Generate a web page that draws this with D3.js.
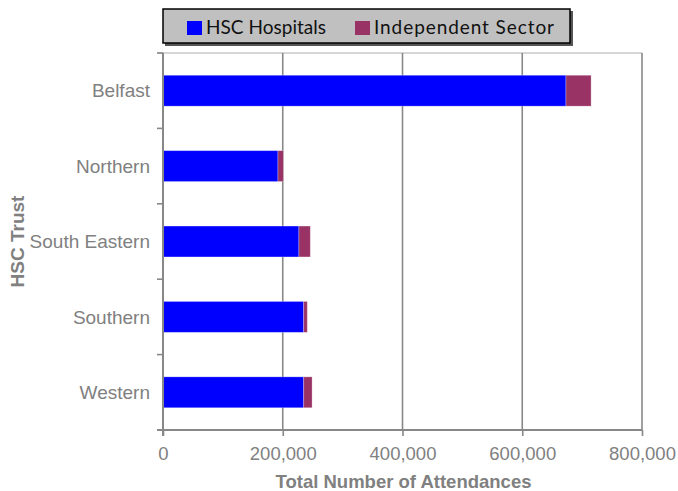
<!DOCTYPE html>
<html>
<head>
<meta charset="utf-8">
<script src="https://cdn.jsdelivr.net/npm/d3@7"></script>
<style>
  html, body { margin: 0; padding: 0; background: #fff; }
  svg { display: block; }
</style>
</head>
<body>
<svg id="chart" width="678" height="491"></svg>
<script>
// Attendances by HSC Trust, split by provider type
const trusts = ["Belfast", "Northern", "South Eastern", "Southern", "Western"];
const hscHospitals = [673000, 192000, 227000, 235000, 235000];
const independentSector = [42000, 9000, 19000, 6000, 14000];
const seriesNames = ["HSC Hospitals", "Independent Sector"];
const seriesColors = ["#0000ff", "#993366"];
const xTicks = [0, 200000, 400000, 600000, 800000];

const rows = trusts.map((t, i) => ({
  trust: t,
  "HSC Hospitals": hscHospitals[i],
  "Independent Sector": independentSector[i]
}));

const svg = d3.select("#chart");
const margin = { top: 53, right: 36, bottom: 61, left: 163 };
const W = 678, H = 491;
const innerW = W - margin.left - margin.right;
const innerH = H - margin.top - margin.bottom;

const x = d3.scaleLinear().domain([0, 800000]).range([0, innerW]);
const y = d3.scaleBand().domain(trusts).range([0, innerH])
  .paddingInner(0.59).paddingOuter(0.295);
const yOuter = d3.scaleBand().domain(trusts).range([0, innerH]);

const g = svg.append("g").attr("transform", `translate(${margin.left},${margin.top})`);
const grey = "#888888";
const labelGrey = "#808080";
const sans = "'Liberation Sans', Arial, sans-serif";

// top border of the plot area
g.append("line")
  .attr("x1", -5).attr("x2", innerW).attr("y1", 0).attr("y2", 0)
  .attr("stroke", "#c8c8c8").attr("stroke-width", 1.5);

// vertical gridlines
g.append("g").selectAll("line")
  .data(xTicks.slice(1))
  .join("line")
  .attr("x1", d => x(d)).attr("x2", d => x(d))
  .attr("y1", 0).attr("y2", innerH)
  .attr("stroke", grey).attr("stroke-width", 1.6);

// stacked bars
const stack = d3.stack().keys(seriesNames)(rows);
g.append("g").selectAll("g")
  .data(stack)
  .join("g")
  .attr("fill", (d, i) => seriesColors[i])
  .selectAll("rect")
  .data(d => d)
  .join("rect")
  .attr("x", d => x(d[0]))
  .attr("width", d => x(d[1]) - x(d[0]))
  .attr("y", d => y(d.data.trust))
  .attr("height", y.bandwidth())
  .attr("stroke", "rgba(255,255,255,0.35)")
  .attr("stroke-width", 0.8);

// x axis
const xAxis = g.append("g").attr("transform", `translate(0,${innerH})`)
  .call(d3.axisBottom(x).tickValues(xTicks).tickFormat(d3.format(",")).tickSizeOuter(0).tickSize(6).tickPadding(11));
xAxis.select(".domain").remove();
xAxis.selectAll(".tick line").attr("stroke", grey).attr("stroke-width", 1.6);
xAxis.selectAll("text")
  .attr("fill", labelGrey)
  .style("font-family", sans)
  .style("font-size", "18.5px");
xAxis.append("line")
  .attr("x1", -6).attr("x2", innerW).attr("y1", 0).attr("y2", 0)
  .attr("stroke", grey).attr("stroke-width", 2);

// y axis: ticks sit on category boundaries
const yAxis = g.append("g");
const bounds = trusts.map(t => yOuter(t)).concat([innerH]);
yAxis.selectAll("line.tk")
  .data(bounds)
  .join("line")
  .attr("class", "tk")
  .attr("x1", -6).attr("x2", 0)
  .attr("y1", d => d).attr("y2", d => d)
  .attr("stroke", grey).attr("stroke-width", 1.6);
yAxis.append("line")
  .attr("x1", 0).attr("x2", 0).attr("y1", 0).attr("y2", innerH + 6)
  .attr("stroke", grey).attr("stroke-width", 2);
yAxis.selectAll("text")
  .data(trusts)
  .join("text")
  .attr("x", -13)
  .attr("y", d => y(d) + y.bandwidth() / 2)
  .attr("dy", "0.35em")
  .attr("text-anchor", "end")
  .attr("fill", labelGrey)
  .style("font-family", sans)
  .style("font-size", "19px")
  .text(d => d);

// axis titles
svg.append("text")
  .attr("x", margin.left + innerW / 2 + 1)
  .attr("y", 488)
  .attr("text-anchor", "middle")
  .attr("fill", labelGrey)
  .style("font-family", sans)
  .style("font-size", "18.5px")
  .style("font-weight", "bold")
  .text("Total Number of Attendances");

svg.append("text")
  .attr("transform", `translate(24,${margin.top + innerH / 2}) rotate(-90)`)
  .attr("text-anchor", "middle")
  .attr("fill", labelGrey)
  .style("font-family", sans)
  .style("font-size", "19px")
  .style("font-weight", "bold")
  .text("HSC Trust");

// legend
const legend = svg.append("g").attr("transform", "translate(163,9)");
legend.append("rect")
  .attr("x", 2).attr("y", 2).attr("width", 408).attr("height", 35)
  .attr("fill", "#555");
legend.append("rect")
  .attr("x", 0).attr("y", 0).attr("width", 407).attr("height", 34)
  .attr("fill", "#c0c0c0").attr("stroke", "#000").attr("stroke-width", 1.5);
const legendX = [24, 192];
const legendTextW = [120, 180];
const items = legend.selectAll("g.item")
  .data(seriesNames)
  .join("g")
  .attr("class", "item")
  .attr("transform", (d, i) => `translate(${legendX[i]},0)`);
items.append("rect")
  .attr("x", 0).attr("y", 12).attr("width", 15).attr("height", 14)
  .attr("fill", (d, i) => seriesColors[i]);
items.append("text")
  .attr("x", 19).attr("y", 25)
  .attr("fill", "#111")
  .attr("textLength", (d, i) => legendTextW[i])
  .attr("lengthAdjust", "spacing")
  .style("font-family", "Lato, 'Open Sans', sans-serif")
  .style("font-size", "19px")
  .text(d => d);
</script>
</body>
</html>
